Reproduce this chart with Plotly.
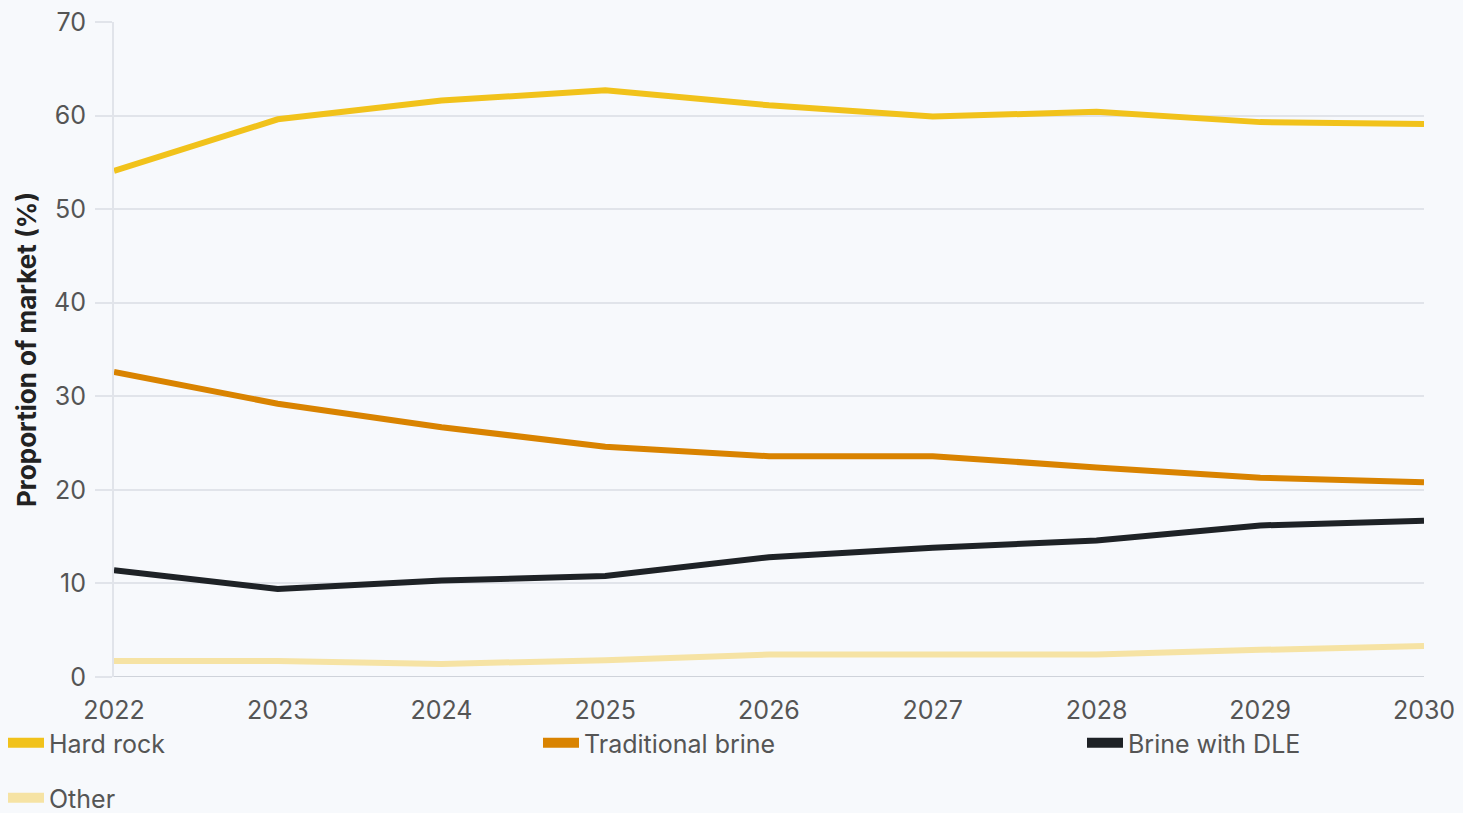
import plotly.graph_objects as go

years = [2022, 2023, 2024, 2025, 2026, 2027, 2028, 2029, 2030]
hard_rock = [54.1, 59.6, 61.6, 62.7, 61.1, 59.9, 60.4, 59.3, 59.1]
traditional_brine = [32.6, 29.2, 26.7, 24.6, 23.6, 23.6, 22.4, 21.3, 20.8]
brine_dle = [11.4, 9.4, 10.3, 10.8, 12.8, 13.8, 14.6, 16.2, 16.7]
other = [1.7, 1.7, 1.4, 1.8, 2.4, 2.4, 2.4, 2.9, 3.3]

series_names = ["Hard rock", "Traditional brine", "Brine with DLE", "Other"]
series_values = [hard_rock, traditional_brine, brine_dle, other]
series_colors = ["#F1C21B", "#D98300", "#1E2226", "#F6E3A4"]

# each legend entry sits in its own legend box: (legend id, left px, centre px from bottom)
legend_slots = [("legend", 3, 70), ("legend2", 538, 70), ("legend3", 1082, 70), ("legend4", 3, 15)]

W, H = 1463, 813
BG = "#F7F9FC"
GRID = "#E1E4EA"
FONT = "Inter, 'Open Sans', sans-serif"
TXT = "#555555"

fig = go.Figure()
for name, vals, color in zip(series_names, series_values, series_colors):
    fig.add_trace(go.Scatter(
        x=years, y=vals, name=name, mode="lines",
        line=dict(color=color, width=6),
        showlegend=False,
    ))

# legend keys drawn as thick swatches
for name, color, (lg, _, _) in zip(series_names, series_colors, legend_slots):
    fig.add_trace(go.Scatter(
        x=[None], y=[None], name=name, mode="lines",
        line=dict(color=color, width=10),
        legend=lg, showlegend=True, hoverinfo="skip",
    ))

legend_layout = {}
for lg, left, ctr in legend_slots:
    legend_layout[lg] = dict(
        orientation="h",
        xref="container", yref="container",
        x=left / W, xanchor="left",
        y=ctr / H, yanchor="middle",
        font=dict(family=FONT, size=25, color=TXT),
        bgcolor="rgba(0,0,0,0)",
        itemwidth=36,
    )

fig.update_layout(
    width=W, height=H,
    margin=dict(l=114, r=39, t=22, b=136, autoexpand=False),
    paper_bgcolor=BG, plot_bgcolor=BG,
    font=dict(family=FONT, color=TXT),
    showlegend=True,
    **legend_layout,
    xaxis=dict(
        range=[2022, 2030],
        tickmode="array", tickvals=years, ticktext=[str(y) for y in years],
        showgrid=False, zeroline=False,
        showline=False,
        ticks="", tickfont=dict(family=FONT, size=25, color=TXT),
        ticklabelstandoff=16,
    ),
    yaxis=dict(
        range=[0, 70], tickmode="linear", tick0=0, dtick=10,
        showgrid=True, gridcolor=GRID, gridwidth=2,
        zeroline=False,
        showline=True, linecolor=GRID, linewidth=2,
        ticks="outside", ticklen=17, tickcolor=GRID, tickwidth=2,
        tickfont=dict(family=FONT, size=25, color=TXT),
        ticklabelstandoff=4,
        title=dict(text="<b>Proportion of market (%)</b>",
                   font=dict(family=FONT, size=26, color="#222222"),
                   standoff=10),
    ),
)

# baseline under the plot area
fig.add_hline(y=0, line=dict(color="#CFD3DA", width=2), layer="below")

fig.write_html("out.html")
